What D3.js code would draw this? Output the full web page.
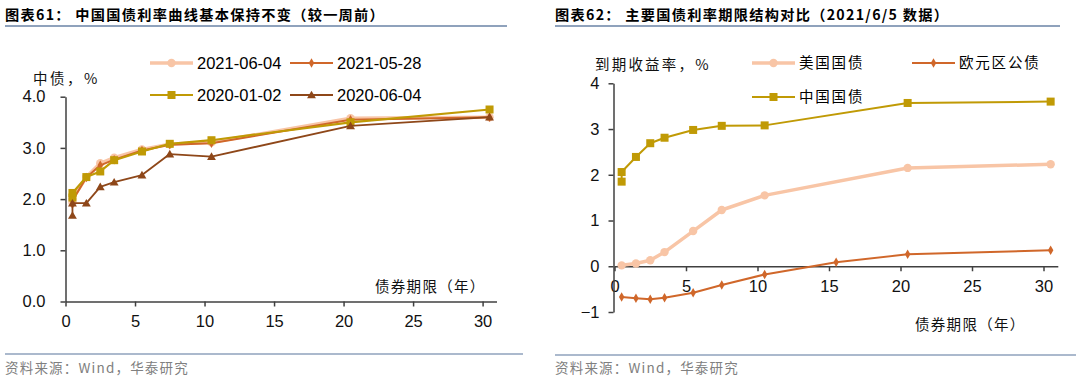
<!DOCTYPE html>
<html>
<head>
<meta charset="utf-8">
<script src="https://cdn.jsdelivr.net/npm/d3@7/dist/d3.min.js"></script>
<style>
  html, body { margin: 0; padding: 0; background: #fff; }
  svg { display: block; }
  text { font-family: "Liberation Sans", Arial, "Noto Sans CJK SC", sans-serif; }
  .cjk { font-family: "Noto Sans CJK SC", "Liberation Sans", sans-serif; }
</style>
</head>
<body>
<svg id="chart" width="1080" height="380"></svg>
<script>
// ---------------- Data ----------------
// Left chart: China government bond yield curves
const tenorsLeft = [0.5, 0.5, 1.5, 2.5, 3.5, 5.5, 7.5, 10.5, 20.5, 30.5];
const cn20210604 = [1.93, 2.00, 2.43, 2.70, 2.81, 2.97, 3.07, 3.11, 3.58, 3.60];
const cn20210528 = [1.90, 1.97, 2.42, 2.66, 2.77, 2.95, 3.06, 3.09, 3.55, 3.60];
const cn20200102 = [2.03, 2.12, 2.43, 2.54, 2.76, 2.93, 3.08, 3.15, 3.50, 3.75];
const cn20200604 = [1.68, 1.92, 1.92, 2.24, 2.33, 2.47, 2.88, 2.83, 3.43, 3.60];
const leftLegend = ["2021-06-04", "2021-05-28", "2020-01-02", "2020-06-04"];
const leftYTicks = [0, 1, 2, 3, 4];
const xTicks = [0, 5, 10, 15, 20, 25, 30];

// Right chart: major government bond term structures (2021/6/5)
const tenorsRight = [0.5, 0.5, 1.5, 2.5, 3.5, 5.5, 7.5, 10.5, 15.5, 20.5, 30.5];
const usYields    = [null, 0.02, 0.06, 0.13, 0.31, 0.77, 1.23, 1.55, null, 2.15, 2.23];
const euroYields  = [null, -0.67, -0.70, -0.72, -0.69, -0.58, -0.41, -0.18, 0.09, 0.26, 0.35];
const chinaYields = [1.85, 2.06, 2.39, 2.69, 2.81, 2.98, 3.07, 3.08, null, 3.57, 3.60];
const rightLegend = ["美国国债", "欧元区公债", "中国国债"];
const rightYTicks = [-1, 0, 1, 2, 3, 4];

const titleLeft = "图表61：  中国国债利率曲线基本保持不变（较一周前）";
const titleRight = "图表62：  主要国债利率期限结构对比（2021/6/5 数据）";
const sourceText = "资料来源：Wind，华泰研究";

// ---------------- Styles ----------------
const C = {
  peach: "#F8C5A6",
  orange: "#D0672A",
  gold: "#C09A05",
  brown: "#8E4719",
  axis: "#404040",
  rule: "#8FA2BC",
  source: "#808080"
};

const svg = d3.select("#chart");

function marker(g, type, color, x, y) {
  if (type === "circle") {
    g.append("circle").attr("cx", x).attr("cy", y).attr("r", 4.2).attr("fill", color);
  } else if (type === "diamond") {
    g.append("path").attr("d", d3.symbol(d3.symbolDiamond, 26)()).attr("transform", `translate(${x},${y})`).attr("fill", color);
  } else if (type === "square") {
    g.append("rect").attr("x", x - 4).attr("y", y - 4).attr("width", 8).attr("height", 8).attr("fill", color);
  } else if (type === "triangle") {
    g.append("path").attr("d", d3.symbol(d3.symbolTriangle, 34)()).attr("transform", `translate(${x},${y + 0.8})`).attr("fill", color);
  }
}

function drawSeries(g, x, y, tenors, values, s) {
  const pts = tenors.map((t, i) => [t, values[i]]).filter(d => d[1] != null);
  g.append("path")
    .attr("d", d3.line().x(d => x(d[0])).y(d => y(d[1]))(pts))
    .attr("fill", "none").attr("stroke", s.color).attr("stroke-width", s.width)
    .attr("stroke-linejoin", "round");
  pts.forEach(d => marker(g, s.marker, s.color, x(d[0]), y(d[1])));
}

function legendItem(g, lx, ly, label, s, cjk) {
  g.append("line").attr("x1", lx).attr("x2", lx + 43).attr("y1", ly).attr("y2", ly)
    .attr("stroke", s.color).attr("stroke-width", s.width);
  marker(g, s.marker, s.color, lx + 21.5, ly);
  const t = g.append("text").attr("x", lx + 47).attr("y", ly).attr("dy", "0.36em")
    .attr("font-size", cjk ? 14.5 : 16.5).attr("fill", "#000").text(label);
  if (cjk) t.attr("class", "cjk").attr("letter-spacing", 1.8);
}

// ---------------- Titles, rules, source ----------------
function header(x0, x1, title, ruleY1) {
  svg.append("text").attr("class", "cjk").attr("x", x0).attr("y", 15).attr("dy", "0.36em")
    .attr("font-size", 14.2).attr("font-weight", "bold").attr("letter-spacing", 1.3).attr("fill", "#000").text(title);
  svg.append("line").attr("x1", x0).attr("x2", x1).attr("y1", 26).attr("y2", 26)
    .attr("stroke", C.rule).attr("stroke-width", 2);
  svg.append("line").attr("x1", x0).attr("x2", x1 + 16).attr("y1", ruleY1).attr("y2", ruleY1)
    .attr("stroke", C.rule).attr("stroke-width", 1.5);
  svg.append("text").attr("class", "cjk").attr("x", x0).attr("y", 368).attr("dy", "0.36em")
    .attr("font-size", 13.5).attr("letter-spacing", 1.2).attr("fill", C.source).text(sourceText);
}
header(5, 507, titleLeft, 354);
header(555, 1060, titleRight, 355);

// ---------------- Left chart ----------------
(function () {
  const x = d3.scaleLinear().domain([0, 31]).range([65.5, 496.5]);
  const y = d3.scaleLinear().domain([0, 4]).range([301.5, 96.7]);
  const g = svg.append("g");

  const xa = g.append("g").attr("transform", `translate(0,${y(0)})`)
    .call(d3.axisBottom(x).tickValues(xTicks).tickFormat(d3.format("d")).tickSize(5).tickPadding(9).tickSizeOuter(0));
  const ya = g.append("g").attr("transform", `translate(${x(0)},0)`)
    .call(d3.axisLeft(y).tickValues(leftYTicks).tickFormat(d3.format(".1f")).tickSize(5).tickPadding(15).tickSizeOuter(0));
  [xa, ya].forEach(a => {
    a.select(".domain").attr("stroke", C.axis).attr("stroke-width", 1.5);
    a.selectAll(".tick line").attr("stroke", C.axis).attr("stroke-width", 1.5);
    a.selectAll(".tick text").attr("font-size", 16.5).attr("fill", "#111").attr("font-family", "Liberation Sans, Arial, sans-serif");
  });

  const styles = [
    { color: C.peach, width: 3.5, marker: "circle" },
    { color: C.orange, width: 2, marker: "diamond" },
    { color: C.gold, width: 2.2, marker: "square" },
    { color: C.brown, width: 1.8, marker: "triangle" }
  ];
  const data = [cn20210604, cn20210528, cn20200102, cn20200604];
  data.forEach((v, i) => drawSeries(g, x, y, tenorsLeft, v, styles[i]));

  g.append("text").attr("class", "cjk").attr("x", 33).attr("y", 79).attr("dy", "0.36em")
    .attr("font-size", 14.5).attr("letter-spacing", 2.5).attr("fill", "#111").text("中债，%");
  g.append("text").attr("class", "cjk").attr("x", 375).attr("y", 287).attr("dy", "0.36em")
    .attr("font-size", 14.5).attr("letter-spacing", 1.3).attr("fill", "#111").text("债券期限（年）");

  const lg = g.append("g");
  legendItem(lg, 150, 63, leftLegend[0], styles[0]);
  legendItem(lg, 290, 63, leftLegend[1], styles[1]);
  legendItem(lg, 150, 95, leftLegend[2], styles[2]);
  legendItem(lg, 290, 95, leftLegend[3], styles[3]);
})();

// ---------------- Right chart ----------------
(function () {
  const x = d3.scaleLinear().domain([0, 31]).range([614.5, 1057.8]);
  const y = d3.scaleLinear().domain([-1, 4]).range([312, 83.3]);
  const g = svg.append("g");

  const xa = g.append("g").attr("transform", `translate(0,${y(0)})`)
    .call(d3.axisBottom(x).tickValues(xTicks).tickFormat(d3.format("d")).tickSize(5).tickPadding(9).tickSizeOuter(0));
  const ya = g.append("g").attr("transform", `translate(${x(0) - 1},0)`)
    .call(d3.axisLeft(y).tickValues(rightYTicks).tickFormat(d3.format("d")).tickSize(5).tickPadding(9).tickSizeOuter(0));
  [xa, ya].forEach(a => {
    a.select(".domain").attr("stroke", C.axis).attr("stroke-width", 1.5);
    a.selectAll(".tick line").attr("stroke", C.axis).attr("stroke-width", 1.5);
    a.selectAll(".tick text").attr("font-size", 16.5).attr("fill", "#111").attr("font-family", "Liberation Sans, Arial, sans-serif");
  });

  const styles = [
    { color: C.peach, width: 3.5, marker: "circle" },
    { color: C.orange, width: 2, marker: "diamond" },
    { color: C.gold, width: 2, marker: "square" }
  ];
  const data = [usYields, euroYields, chinaYields];
  data.forEach((v, i) => drawSeries(g, x, y, tenorsRight, v, styles[i]));

  g.append("text").attr("class", "cjk").attr("x", 595).attr("y", 65).attr("dy", "0.36em")
    .attr("font-size", 14.5).attr("letter-spacing", 2.2).attr("fill", "#111").text("到期收益率，%");
  g.append("text").attr("class", "cjk").attr("x", 915).attr("y", 325).attr("dy", "0.36em")
    .attr("font-size", 14.5).attr("letter-spacing", 1.3).attr("fill", "#111").text("债券期限（年）");

  const lg = g.append("g");
  legendItem(lg, 752, 63, rightLegend[0], styles[0], true);
  legendItem(lg, 912, 63, rightLegend[1], styles[1], true);
  legendItem(lg, 752, 97, rightLegend[2], styles[2], true);
})();
</script>
</body>
</html>
